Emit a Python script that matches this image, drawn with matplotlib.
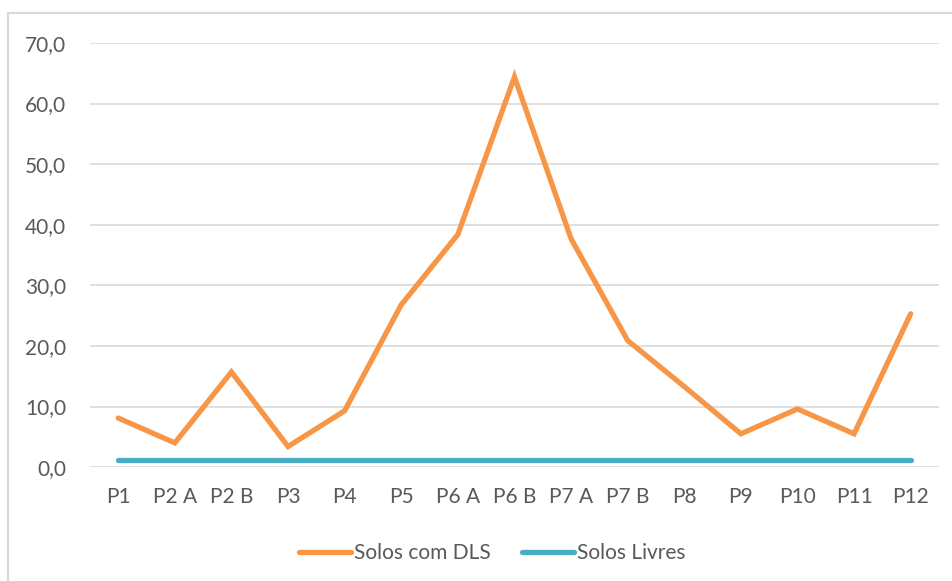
import numpy as np
import matplotlib.pyplot as plt
from matplotlib.patches import Rectangle

# Dados
pontos = ["P1", "P2 A", "P2 B", "P3", "P4", "P5", "P6 A", "P6 B",
          "P7 A", "P7 B", "P8", "P9", "P10", "P11", "P12"]
solos_dls = [8.1, 4.0, 15.7, 3.4, 9.3, 26.8, 38.4, 64.4,
             37.7, 20.9, 13.3, 5.5, 9.6, 5.5, 25.3]
solos_livres = [1.15] * len(pontos)

plt.rcParams['font.family'] = ['Lato', 'DejaVu Sans']

fig = plt.figure(figsize=(9.52, 5.81), dpi=100)
ax = fig.add_axes([0.0945, 0.196, 0.8918, 0.730])

# Borda externa do gráfico
fig.patches.append(Rectangle((8 / 952, -0.1), 1.2, 1 - 13 / 581 + 0.1,
                             transform=fig.transFigure, fill=False,
                             edgecolor="#D9D9D9", linewidth=1.5))

x = np.arange(len(pontos))
ax.plot(x, solos_dls, color="#F79646", linewidth=3.8, label="Solos com DLS",
        solid_capstyle="round", solid_joinstyle="miter")
ax.plot(x, solos_livres, color="#4BACC6", linewidth=3.8, label="Solos Livres",
        solid_capstyle="round")

ax.set_xlim(-0.5, len(pontos) - 0.5)
ax.set_ylim(0, 70)
ax.set_yticks(np.arange(0, 71, 10))
ax.set_yticklabels([f"{v:.1f}".replace(".", ",") for v in range(0, 71, 10)])
ax.set_xticks(x)
ax.set_xticklabels(pontos)

ax.grid(axis="y", color="#D9D9D9", linewidth=1.2)
ax.set_axisbelow(True)
for s in ax.spines.values():
    s.set_visible(False)
ax.tick_params(length=0, labelsize=15, colors="#595959", pad=14)
ax.tick_params(axis="y", pad=17)

leg = ax.legend(loc="upper center", bbox_to_anchor=(0.4735, -0.135), ncol=2,
                frameon=False, fontsize=15, handlelength=2.5,
                handletextpad=0.15, columnspacing=1.5)
for t in leg.get_texts():
    t.set_color("#595959")

fig.savefig("out.png", dpi=100)
